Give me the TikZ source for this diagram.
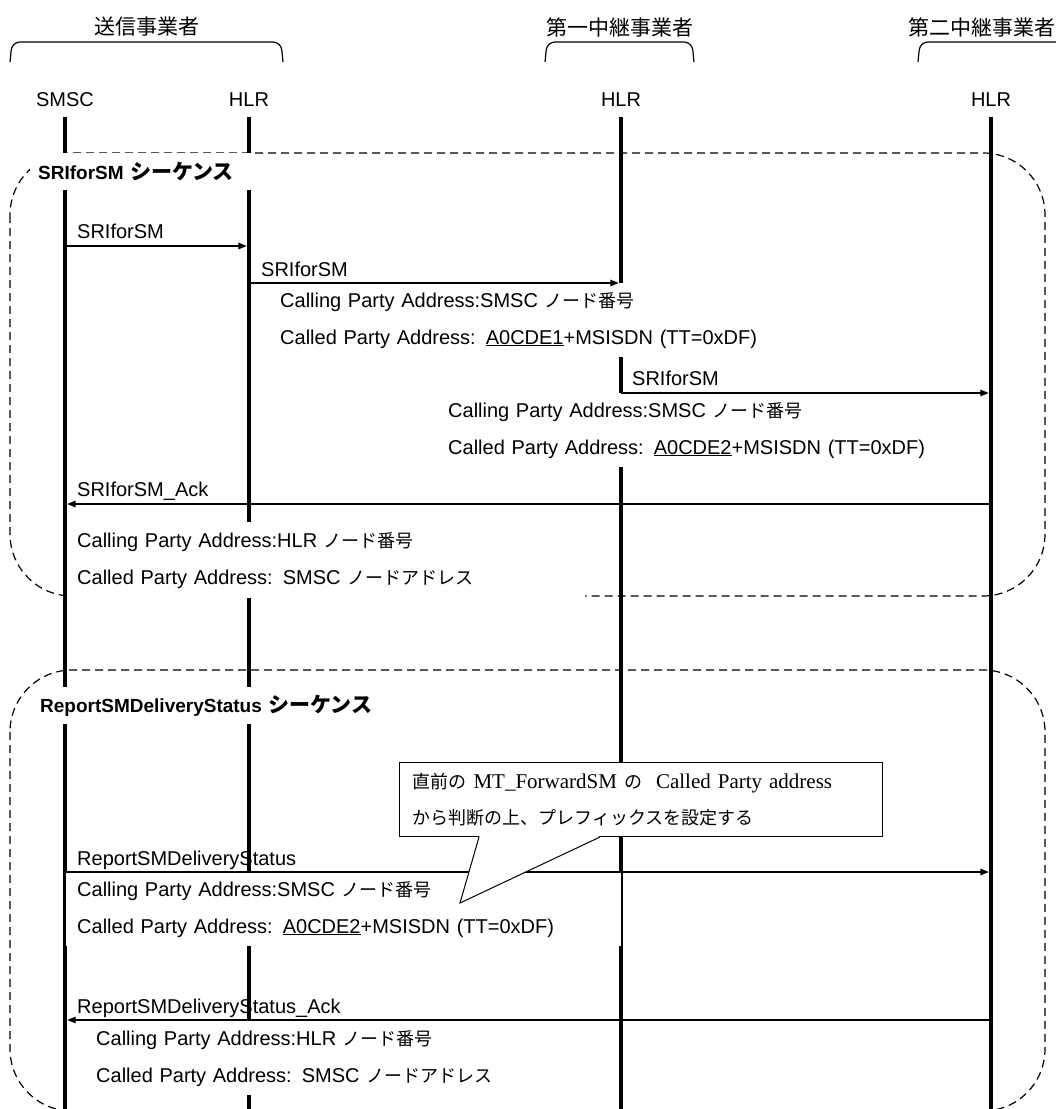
\documentclass[tikz,border=0pt]{standalone}
\usepackage{fontspec}
\setmainfont{Liberation Sans}
\newfontfamily\jpfont{Noto Sans CJK JP}
\newfontfamily\notefont{Liberation Serif}
\usetikzlibrary{arrows.meta}
\newcommand{\ja}[2][18]{{\jpfont\fontsize{#1}{#1}\selectfont #2}}

\begin{document}
\begin{tikzpicture}[x=1pt, y=-1pt, >={Triangle[length=8.5pt, width=6.5pt]},
    owner/.style={inner sep=2pt},
    actor/.style={font=\fontsize{20}{24}\selectfont},
    brace/.style={line width=1.2pt, rounded corners=8pt},
    lifeline/.style={line width=4.5pt},
    zone/.style={line width=1.2pt, dash pattern=on 8pt off 5pt, rounded corners=62pt},
    seqtitle/.style={anchor=north west, fill=white, inner xsep=8pt, inner ysep=0pt, minimum height=37pt, align=left, font=\bfseries\fontsize{19}{22}\selectfont},
    msg/.style={->, line width=1.3pt, shorten >=2.2pt},
    lbl/.style={anchor=base west, inner sep=0pt, font=\fontsize{20}{24}\selectfont},
    info/.style={anchor=north west, fill=white, inner xsep=8pt, inner ysep=0pt, minimum height=74pt, align=left, font=\fontsize{20}{37}\selectfont},
    note/.style={anchor=north west, draw, fill=white, line width=1pt, inner xsep=13pt, inner ysep=0pt, minimum height=74pt, align=left, font=\notefont\fontsize{21}{36}\selectfont}]
  \useasboundingbox (0,0) rectangle (1056,1109);
  \clip (0,0) rectangle (1056,1109);

  \node[owner] (op1) at (147,27) {\ja[21]{送信事業者}};
  \node[owner] (op2) at (620,27) {\ja[21]{第一中継事業者}};
  \node[owner] (op3) at (982,27) {\ja[21]{第二中継事業者}};
  \draw[brace] (10,62) -- (12,42) -- (281,42) -- (283,62);
  \draw[brace] (545,62) -- (547,42) -- (692,42) -- (694,62);
  \draw[brace] (918,62) -- (920,42) -- (1070,42);

  \foreach \n/\x/\lab in {smsc/65/SMSC, hlr1/249/HLR, hlr2/621/HLR, hlr3/991/HLR} {
    \node[actor] (\n) at (\x,100) {\lab};
    \coordinate (\n-top) at (\x,117);
    \coordinate (\n-end) at (\x,1110);
  }

  \draw[zone] (10,153) rectangle (1045,596);
  \draw[zone] (10,670) rectangle (1045,1111);
  \foreach \n in {smsc,hlr1,hlr2,hlr3} \draw[lifeline] (\n-top) -- (\n-end);

  \node[seqtitle, text width=209pt] (seq1) at (30,153) {SRIforSM \ja[21]{シーケンス}};
  \node[seqtitle, text width=345pt, inner xsep=5pt] (seq2) at (35,687) {ReportSMDeliveryStatus \ja[21]{シーケンス}};

  \node[info, text width=520pt] (i1) at (272,283) {Calling Party Address:SMSC \ja{ノード番号}\\Called Party Address: \underline{A0CDE1}+MSISDN (TT=0xDF)};
  \node[info, text width=500pt] (i2) at (440,393) {Calling Party Address:SMSC \ja{ノード番号}\\Called Party Address: \underline{A0CDE2}+MSISDN (TT=0xDF)};
  \node[info, text width=500pt, minimum height=76pt] (i3) at (69,522) {Calling Party Address:HLR \ja{ノード番号}\\Called Party Address: SMSC \ja{ノードアドレス}};
  \node[info, text width=533pt, inner xsep=11pt] (i4) at (66,872) {Calling Party Address:SMSC \ja{ノード番号}\\Called Party Address: \underline{A0CDE2}+MSISDN (TT=0xDF)};
  \node[info, text width=400pt] (i5) at (88,1021) {Calling Party Address:HLR \ja{ノード番号}\\Called Party Address: SMSC \ja{ノードアドレス}};

  \foreach \r/\y in {r1/246, r2/283, r3/393, r4/504, r5/872, r6/1020} \coordinate (\r) at (0,\y);
  \draw[msg] (smsc-top |- r1) -- (hlr1-top |- r1);
  \draw[msg] (hlr1-top |- r2) -- (hlr2-top |- r2);
  \draw[msg] (hlr2-top |- r3) -- (hlr3-top |- r3);
  \draw[msg] (hlr3-top |- r4) -- (smsc-top |- r4);
  \draw[msg] (smsc-top |- r5) -- (hlr3-top |- r5);
  \draw[msg] (hlr3-top |- r6) -- (smsc-top |- r6);

  \node[lbl] (m1) at (77,238) {SRIforSM};
  \node[lbl] (m2) at (261,276) {SRIforSM};
  \node[lbl] (m3) at (632,385) {SRIforSM};
  \node[lbl] (m4) at (77,496) {SRIforSM\_Ack};
  \node[lbl] (m5) at (77,865) {ReportSMDeliveryStatus};
  \node[lbl] (m6) at (77,1013) {ReportSMDeliveryStatus\_Ack};

  \node[note, text width=457pt] (note) at (399,762) {\ja{直前の} MT\_ForwardSM \ja{の}\ \ Called Party address\\\ja{から判断の上、プレフィックスを設定する}};
  \coordinate (tip) at (460,903);
  \fill[white] ([shift={(80.5,-0.8)}]note.south west) -- (tip) -- ([shift={(200.5,-0.8)}]note.south west) -- cycle;
  \draw[line width=1pt] ([xshift=80pt]note.south west) -- (tip) -- ([xshift=201pt]note.south west);
\end{tikzpicture}
\end{document}
